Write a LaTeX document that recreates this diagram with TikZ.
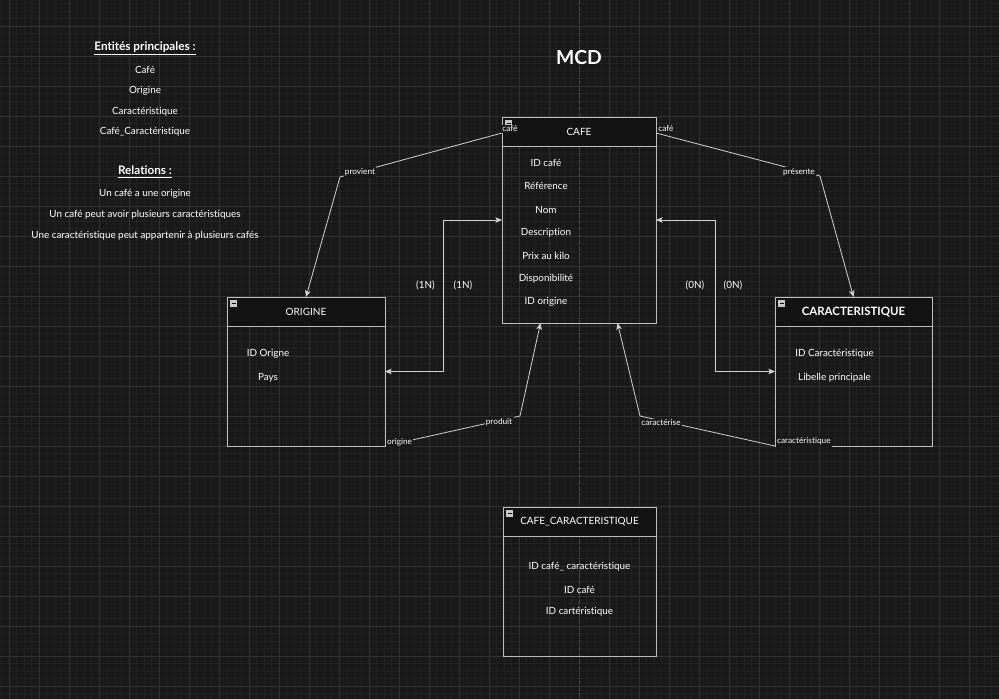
\documentclass[tikz,border=0pt]{standalone}
\usepackage{fontspec}
\setmainfont{Lato}[Ligatures=NoCommon]
\usetikzlibrary{calc,arrows.meta}
\definecolor{bg}{RGB}{24,24,24}
\definecolor{gridminor}{RGB}{33,33,33}
\definecolor{gridmajor}{RGB}{48,48,48}
\definecolor{gridguide}{RGB}{72,72,72}
\definecolor{boxline}{RGB}{190,190,190}
\definecolor{headfill}{RGB}{18,18,18}
\definecolor{edgecol}{RGB}{210,210,210}
\definecolor{iconfill}{RGB}{200,200,200}
\begin{document}
\begin{tikzpicture}[x=0.75pt,y=-0.75pt,
  txt/.style={text=white,inner sep=0pt,font=\fontsize{7.4}{8}\selectfont},
  boldtxt/.style={text=white,inner sep=0pt,font=\bfseries\fontsize{8.6}{9}\selectfont},
  ttl/.style={text=white,inner sep=0pt,font=\fontsize{7.5}{8}\selectfont},
  hdr/.style={text=white,inner sep=0pt,font=\bfseries\fontsize{8.8}{9}\selectfont},
  elabel/.style={text=white,fill=bg,inner sep=1pt,font=\fontsize{6.2}{7}\selectfont},
  entity/.style={anchor=north west,inner sep=0pt,outer sep=0pt},
  boxdraw/.style={draw=boxline,line width=0.75pt},
  rel/.style={draw=edgecol,line width=0.6pt},
  tip/.tip={Stealth[length=5pt,width=4.2pt,inset=1.2pt]},
]
\useasboundingbox (0,0) rectangle (999,699);
\fill[bg] (0,0) rectangle (999,699);
% grid
\foreach \i in {0,...,133} {\draw[gridminor,line width=0.6pt] ({1.83+7.5*\i},0) -- ({1.83+7.5*\i},699);}
\foreach \j in {0,...,93} {\draw[gridminor,line width=0.6pt] (0,{3.5+7.5*\j}) -- (999,{3.5+7.5*\j});}
\foreach \i in {0,...,33} {\draw[gridmajor,line width=0.7pt] ({9.33+30*\i},0) -- ({9.33+30*\i},699);}
\foreach \j in {-1,...,23} {\draw[gridmajor,line width=0.7pt] (0,{26+30*\j}) -- (999,{26+30*\j});}
\draw[gridguide,line width=0.7pt,dash pattern=on 3pt off 2pt] (579.3,0) -- (579.3,699);

% left texts
\node[hdr] (ent) at (145,48) {\underline{Entités principales~:}};
\node[txt] (e1) at (145,69.5) {Café};
\node[txt] (e2) at (145,90.5) {Origine};
\node[txt] (e3) at (145,111.5) {Caractéristique};
\node[txt] (e4) at (145,131.5) {Café\_Caractéristique};
\node[hdr] (rel) at (145,172) {\underline{Relations~:}};
\node[txt] (r1) at (145,193.5) {Un café a une origine};
\node[txt] (r2) at (145,214.5) {Un café peut avoir plusieurs caractéristiques};
\node[txt] (r3) at (145,235.5) {Une caractéristique peut appartenir à plusieurs cafés};

\node[text=white,inner sep=0pt,font=\bfseries\fontsize{14.5}{16}\selectfont] (mcd) at (579,57.5) {MCD};

% entity boxes
\node[entity,minimum width=154*0.75pt,minimum height=206*0.75pt] (cafe) at (502,117) {};
\node[entity,minimum width=158*0.75pt,minimum height=149*0.75pt] (origine) at (227,297) {};
\node[entity,minimum width=157*0.75pt,minimum height=149*0.75pt] (carac) at (775,297) {};
\node[entity,minimum width=153*0.75pt,minimum height=149*0.75pt] (cc) at (503,507) {};

\foreach \b in {cafe,origine,carac,cc} {
  \fill[headfill] (\b.north west) rectangle ($(\b.north east)+(0,29.5)$);
  \draw[boxdraw] (\b.north west) rectangle (\b.south east);
  \draw[boxdraw] ($(\b.north west)+(0,29.5)$) -- ($(\b.north east)+(0,29.5)$);
  \fill[iconfill] ($(\b.north west)+(3,3)$) rectangle ($(\b.north west)+(10,10)$);
  \draw[headfill,line width=0.7pt] ($(\b.north west)+(4.5,6.5)$) -- ($(\b.north west)+(8.5,6.5)$);
}

% titles
\node[ttl] (tcafe) at (579,132) {CAFE};
\node[ttl] (torig) at (306,312) {ORIGINE};
\node[boldtxt] (tcarac) at (853.5,312) {CARACTERISTIQUE};
\node[ttl] (tcc) at (579.5,522) {CAFE\_CARACTERISTIQUE};

% attributes
\node[txt] (a1) at (546,162.5) {ID café};
\node[txt] (a2) at (546,185.5) {Référence};
\node[txt] (a3) at (546,209.5) {Nom};
\node[txt] (a4) at (546,232.5) {Description};
\node[txt] (a5) at (546,255.5) {Prix au kilo};
\node[txt] (a6) at (546,278.5) {Disponibilité};
\node[txt] (a7) at (546,301.5) {ID origine};

\node[txt] (o1) at (268,353.5) {ID Origne};
\node[txt] (o2) at (268,377.5) {Pays};

\node[txt] (c1) at (834.5,353.5) {ID Caractéristique};
\node[txt] (c2) at (834.5,377.5) {Libelle principale};

\node[txt] (cc1) at (579.5,566.5) {ID café\_ caractéristique};
\node[txt] (cc2) at (579.5,589.5) {ID café};
\node[txt] (cc3) at (579.5,611.5) {ID cartéristique};

% connectors
\coordinate (w1) at (340,177);
\coordinate (w2) at (820,176);
\coordinate (k1) at (443,220);
\coordinate (k2) at (715.5,220);
\coordinate (w5) at (520,416);
\coordinate (w6) at (640,416);

\draw[rel,-tip] ($(cafe.north west)+(0,16)$) -- (w1) -- (origine.north);
\draw[rel,-tip] ($(cafe.north east)+(0,16)$) -- (w2) -- (carac.north);
\draw[rel,tip-tip] (origine.east) -| (k1) -- (cafe.west);
\draw[rel,tip-tip] (carac.west) -| (k2) -- (cafe.east);
\draw[rel,-tip] (origine.south east) -- (w5) -- ($(cafe.south west)!0.25!(cafe.south east)$);
\draw[rel,-tip] (carac.south west) -- (w6) -- ($(cafe.south west)!0.75!(cafe.south east)$);

% edge labels
\node[elabel] (l1) at (510,129) {café};
\node[elabel] (l2) at (666,129) {café};
\node[elabel] (l3) at (360,172) {provient};
\node[elabel] (l4) at (799,172) {présente};
\node[elabel,anchor=west] (l5) at (385.5,442) {origine};
\node[elabel] (l6) at (499,422.5) {produit};
\node[elabel] (l7) at (661,423) {caractérise};
\node[elabel,anchor=west] (l8) at (775.5,441.5) {caractéristique};

% cardinalities
\node[txt] (m1) at (425.5,285.5) {(1N)};
\node[txt] (m2) at (463,285.5) {(1N)};
\node[txt] (m3) at (695,285.5) {(0N)};
\node[txt] (m4) at (733,285.5) {(0N)};
\end{tikzpicture}
\end{document}
